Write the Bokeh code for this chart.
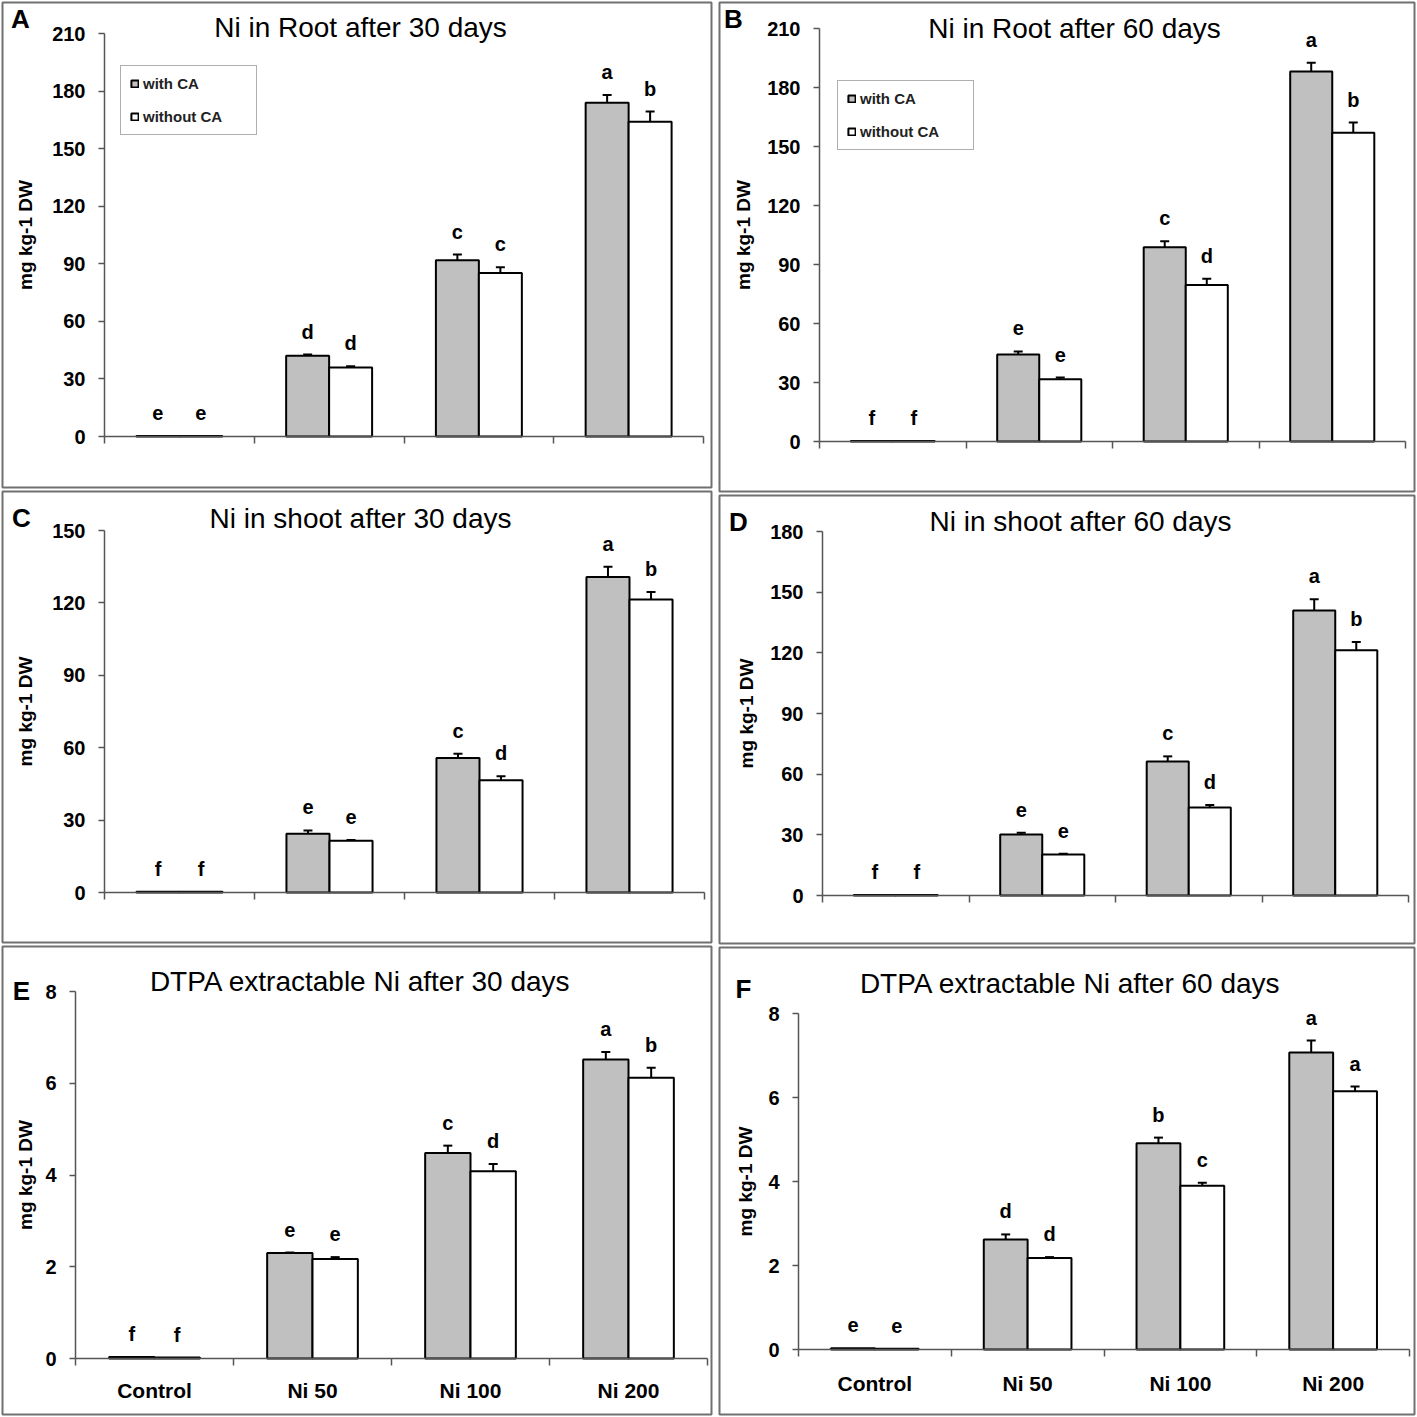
from bokeh.plotting import figure
from bokeh.models import Range1d, FixedTicker, Label, Whisker, TeeHead, ColumnDataSource
from bokeh.layouts import row, column
from bokeh.embed import file_html
from bokeh.resources import INLINE
from bokeh.core.properties import value

# ---------------- data ----------------
categories = ["Control", "Ni 50", "Ni 100", "Ni 200"]
series_names = ["with CA", "without CA"]

root30_with = [0.3, 42.1, 91.8, 173.9]
root30_without = [0.3, 36.0, 85.2, 164.0]
root30_with_err = [0.0, 0.6, 3.0, 4.1]
root30_without_err = [0.0, 0.6, 3.0, 5.3]
root30_with_let = ["e", "d", "c", "a"]
root30_without_let = ["e", "d", "c", "b"]

root60_with = [0.3, 44.3, 98.8, 188.1]
root60_without = [0.3, 31.7, 79.6, 157.0]
root60_with_err = [0.0, 1.5, 3.0, 4.5]
root60_without_err = [0.0, 0.8, 3.1, 5.2]
root60_with_let = ["f", "e", "c", "a"]
root60_without_let = ["f", "e", "d", "b"]

shoot30_with = [0.3, 24.3, 55.7, 130.7]
shoot30_without = [0.3, 21.4, 46.5, 121.4]
shoot30_with_err = [0.0, 1.4, 1.8, 4.3]
shoot30_without_err = [0.0, 0.4, 1.7, 3.1]
shoot30_with_let = ["f", "e", "c", "a"]
shoot30_without_let = ["f", "e", "d", "b"]

shoot60_with = [0.3, 30.2, 66.3, 140.9]
shoot60_without = [0.3, 20.3, 43.5, 121.3]
shoot60_with_err = [0.0, 0.8, 2.5, 5.6]
shoot60_without_err = [0.0, 0.4, 1.2, 4.0]
shoot60_with_let = ["f", "e", "c", "a"]
shoot60_without_let = ["f", "e", "d", "b"]

dtpa30_with = [0.03, 2.30, 4.48, 6.52]
dtpa30_without = [0.02, 2.17, 4.08, 6.12]
dtpa30_with_err = [0.0, 0.01, 0.16, 0.16]
dtpa30_without_err = [0.0, 0.04, 0.16, 0.22]
dtpa30_with_let = ["f", "e", "c", "a"]
dtpa30_without_let = ["f", "e", "d", "b"]

dtpa60_with = [0.03, 2.62, 4.91, 7.07]
dtpa60_without = [0.02, 2.18, 3.90, 6.15]
dtpa60_with_err = [0.0, 0.12, 0.135, 0.285]
dtpa60_without_err = [0.0, 0.02, 0.07, 0.11]
dtpa60_with_let = ["e", "d", "b", "a"]
dtpa60_without_let = ["e", "d", "c", "a"]

# ---------------- style ----------------
FONT = "Liberation Sans"
GRAY = "#c0c0c0"
AXIS = "#555555"
BAR_W = 0.287
INSET = 2


def panel(tag, title, vw, vo, ew, eo, lw, lo, ymax, ystep, canvas, axes_px,
          show_cats, legend_box, title_xy, tag_xy, lab_standoff, cat_standoff):
    cx0, cy0, cx1, cy1 = canvas
    AL, AR, AT, AZ = axes_px            # page px of axis left/right, top tick, zero line
    FX0, FX1 = cx0 + INSET, cx1 - INSET  # frame edges (page px)
    FY0, FY1 = cy0 + INSET, cy1 - INSET
    n = len(categories)
    sx = (AR - AL) / n
    sy = (AZ - AT) / ymax
    xr = Range1d((FX0 - AL) / sx, n + (FX1 - AR) / sx)
    yr = Range1d(-(FY1 - AZ) / sy, ymax + (AT - FY0) / sy)
    p = figure(width=cx1 - cx0, height=cy1 - cy0, x_range=xr, y_range=yr,
               min_border_left=INSET, min_border_right=INSET,
               min_border_top=INSET, min_border_bottom=INSET,
               output_backend="svg", toolbar_location=None, tools="")
    p.outline_line_color = "#707070"
    p.outline_line_width = 2
    p.xgrid.visible = False
    p.ygrid.visible = False
    p.background_fill_color = "white"
    p.border_fill_color = "white"

    xw = [i + 0.5 - BAR_W / 2 for i in range(n)]
    xo = [i + 0.5 + BAR_W / 2 for i in range(n)]
    kw_w = dict(legend_label=series_names[0]) if legend_box else {}
    kw_o = dict(legend_label=series_names[1]) if legend_box else {}
    p.vbar(x=xw, top=vw, width=BAR_W, fill_color=GRAY, line_color="black", line_width=2, **kw_w)
    p.vbar(x=xo, top=vo, width=BAR_W, fill_color="white", line_color="black", line_width=2, **kw_o)

    # error bars
    base, lower, upper = [], [], []
    for xs, vs, es in ((xw, vw, ew), (xo, vo, eo)):
        for x, v, e in zip(xs, vs, es):
            if e > 0:
                base.append(x)
                lower.append(v - e)
                upper.append(v + e)
    src = ColumnDataSource(dict(base=base, lower=lower, upper=upper))
    p.add_layout(Whisker(source=src, base="base", lower="lower", upper="upper",
                         line_width=2, line_color="black",
                         upper_head=TeeHead(size=9, line_width=2, line_color="black"),
                         lower_head=TeeHead(size=9, line_width=2, line_color="black")))

    # significance letters
    p.text(x=xw + xo,
           y=[v + e for v, e in zip(vw, ew)] + [v + e for v, e in zip(vo, eo)],
           text=lw + lo, text_font=value(FONT), text_font_style="bold",
           text_font_size="20px", text_align="center", text_baseline="middle",
           y_offset=-23, text_color="black")

    # y axis (drawn at x = 0)
    ya = p.yaxis[0]
    ya.fixed_location = 0
    ya.bounds = (0, ymax)
    ya.ticker = FixedTicker(ticks=list(range(0, ymax + 1, ystep)))
    ya.axis_line_color = AXIS
    ya.axis_line_width = 1.5
    ya.major_tick_line_color = AXIS
    ya.major_tick_line_width = 1.5
    ya.major_tick_out = 6
    ya.major_tick_in = 0
    ya.minor_tick_line_color = None
    ya.major_label_text_font = FONT
    ya.major_label_text_font_size = "20px"
    ya.major_label_text_font_style = "bold"
    ya.major_label_text_color = "black"
    ya.major_label_standoff = 13
    ya.axis_label = "mg kg-1 DW"
    ya.axis_label_text_font = FONT
    ya.axis_label_text_font_size = "19px"
    ya.axis_label_text_font_style = "bold"
    ya.axis_label_text_color = "black"
    ya.axis_label_standoff = lab_standoff

    # x axis (drawn at y = 0)
    xa = p.xaxis[0]
    xa.fixed_location = 0
    xa.bounds = (0, n)
    centers = [i + 0.5 for i in range(n)]
    bounds = [float(i) for i in range(n + 1)]
    xa.ticker = FixedTicker(ticks=centers if show_cats else [], minor_ticks=bounds)
    if show_cats:
        xa.major_label_overrides = {c: lab for c, lab in zip(centers, categories)}
    xa.axis_line_color = AXIS
    xa.axis_line_width = 1.5
    xa.major_tick_out = 0
    xa.major_tick_in = 0
    xa.major_tick_line_color = None
    xa.minor_tick_out = 7
    xa.minor_tick_in = 0
    xa.minor_tick_line_color = AXIS
    xa.minor_tick_line_width = 1.5
    xa.major_label_text_font = FONT
    xa.major_label_text_font_size = "21px"
    xa.major_label_text_font_style = "bold"
    xa.major_label_text_color = "black"
    xa.major_label_standoff = cat_standoff

    # title & panel tag (screen px relative to the frame)
    tx, ty = title_xy
    p.add_layout(Label(x=tx - FX0, y=FY1 - ty, x_units="screen", y_units="screen",
                       text=title, text_font=FONT, text_font_size="28px",
                       text_align="center", text_baseline="middle", text_color="black"))
    gx, gy = tag_xy
    p.add_layout(Label(x=gx - FX0, y=FY1 - gy, x_units="screen", y_units="screen",
                       text=tag, text_font=FONT, text_font_size="26px", text_font_style="bold",
                       text_align="center", text_baseline="middle", text_color="black"))

    if legend_box:
        lx, lby = legend_box           # page px: left edge, bottom edge
        lg = p.legend[0]
        lg.location = (lx - FX0, FY1 - lby)
        lg.orientation = "vertical"
        lg.border_line_color = "#606060"
        lg.border_line_width = 1.5
        lg.background_fill_color = "white"
        lg.padding = 9
        lg.spacing = 16
        lg.margin = 0
        lg.glyph_width = 9
        lg.glyph_height = 9
        lg.label_height = 17
        lg.label_width = 104
        lg.label_standoff = 4
        lg.label_text_font = FONT
        lg.label_text_font_size = "15px"
        lg.label_text_font_style = "bold"
        lg.label_text_color = "#222222"
    return p


pA = panel("A", "Ni in Root after 30 days", root30_with, root30_without, root30_with_err,
           root30_without_err, root30_with_let, root30_without_let, 210, 30,
           (0, 0, 713, 489), (104, 703, 33, 436), False, (120, 135), (360, 27), (20, 18), 13, 13)
pB = panel("B", "Ni in Root after 60 days", root60_with, root60_without, root60_with_err,
           root60_without_err, root60_with_let, root60_without_let, 210, 30,
           (717, 0, 1416, 493), (819, 1405, 28, 441), False, (837, 150), (1074, 28), (733, 18), 10, 13)
pC = panel("C", "Ni in shoot after 30 days", shoot30_with, shoot30_without, shoot30_with_err,
           shoot30_without_err, shoot30_with_let, shoot30_without_let, 150, 30,
           (0, 489, 713, 944), (104, 704, 530, 892), False, None, (360, 518), (21, 517), 13, 13)
pD = panel("D", "Ni in shoot after 60 days", shoot60_with, shoot60_without, shoot60_with_err,
           shoot60_without_err, shoot60_with_let, shoot60_without_let, 180, 30,
           (717, 493, 1416, 945), (822, 1408, 531, 895), False, None, (1080, 521), (738, 521), 10, 13)
pE = panel("E", "DTPA extractable Ni after 30 days", dtpa30_with, dtpa30_without, dtpa30_with_err,
           dtpa30_without_err, dtpa30_with_let, dtpa30_without_let, 8, 2,
           (0, 944, 713, 1416), (75, 707, 991, 1358), True, None, (360, 981), (21, 990), 6, 13)
pF = panel("F", "DTPA extractable Ni after 60 days", dtpa60_with, dtpa60_without, dtpa60_with_err,
           dtpa60_without_err, dtpa60_with_let, dtpa60_without_let, 8, 2,
           (717, 945, 1416, 1416), (798, 1409, 1013, 1349), True, None, (1070, 983), (743, 988), 9, 15)

layout = row(column(pA, pC, pE, spacing=0), column(pB, pD, pF, spacing=0), spacing=4)

open("out.html", "w").write(file_html(layout, INLINE))
